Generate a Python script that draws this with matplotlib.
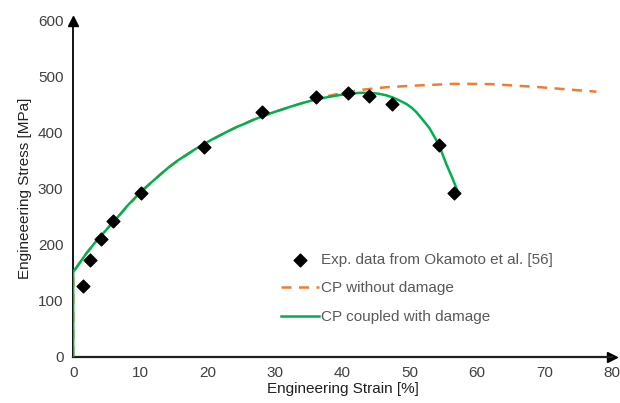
import numpy as np
import matplotlib
matplotlib.use("Agg")
import matplotlib.pyplot as plt

plt.rcParams['font.family'] = ['Liberation Sans', 'DejaVu Sans']

# experimental points (Okamoto et al.)
exp_strain = [1.5, 2.5, 4.1, 5.9, 10.1, 19.5, 28.1, 36.0, 40.8, 43.9, 47.4, 54.3, 56.5]
exp_stress = [127, 173, 210, 242, 292, 375, 437, 463, 470, 466, 451, 378, 292]

# CP coupled with damage
dmg_strain = [0, 0, 1.0, 2.0, 3.2, 4.45, 5.7, 6.9, 8.1, 9.4, 10.6, 11.9, 13.1, 14.3, 15.5,
              16.8, 18.0, 19.3, 20.5, 21.8, 23.0, 24.2, 25.5, 26.7, 28.0, 29.2, 30.7,
              32.2, 33.7, 35.2, 36.6, 38.1, 39.6, 41.1, 42.6, 44.0, 45.3, 46.5, 47.6,
              48.5, 49.5, 50.3, 51.0, 51.9, 52.9, 53.9, 54.7, 55.4, 56.3, 57.1]
dmg_stress = [0, 151, 168, 185, 203, 220, 237, 253, 270, 286, 300.5, 314, 327, 339, 350,
              360, 369.5, 378.5, 387, 395, 402.5, 409.5, 416, 422.5, 428.5, 434, 440,
              446, 451.5, 456.5, 460.5, 464, 467, 469.5, 471, 471, 469.5, 466.5, 462,
              457, 451, 444, 436, 423, 408, 387, 366, 344, 319, 295]

# CP without damage
nod_strain = [0, 0, 2.0, 4.45, 6.9, 9.4, 11.9, 14.3, 16.8, 19.3, 21.8, 24.2, 26.7, 29.2,
              31.5, 33.7, 36.0, 38.1, 40.3, 42.6, 44.5, 46.5, 48.7, 51.0, 53.7, 56.4,
              59.0, 62.0, 65.5, 69.3, 73.5, 77.7]
nod_stress = [0, 151, 185, 220, 253, 286, 314, 339, 360, 378.5, 395, 409.5, 422.5, 434,
              443, 451.5, 460, 466, 471.5, 476, 478.5, 481, 482.5, 484, 485.5, 487,
              487, 486.5, 484, 481, 477, 473]

green = '#00B050'
orange = '#ED7D31'
grey = '#404040'

fig = plt.figure(figsize=(6.2, 4.03), dpi=100)
ax = fig.add_axes([0.118, 0.115, 0.869, 0.834])

ax.plot(nod_strain, nod_stress, color=orange, lw=1.8, linestyle=(0, (4, 3)),
        label='CP without damage', zorder=2)
ax.plot(dmg_strain, dmg_stress, color=green, lw=1.8,
        label='CP coupled with damage', zorder=3)
ax.scatter(exp_strain, exp_stress, marker='D', s=42, color='black', zorder=4,
           label='Exp. data from Okamoto et al. [56]')

ax.set_xlim(0, 80)
ax.set_ylim(0, 600)
ax.set_xticks(range(0, 81, 10))
ax.set_yticks(range(0, 601, 100))
ax.tick_params(length=0, labelsize=11, colors=grey, pad=7)

for s in ['top', 'right']:
    ax.spines[s].set_visible(False)
ax.spines['left'].set_linewidth(1.3)
ax.spines['bottom'].set_linewidth(1.6)
ax.spines['bottom'].set_color('#202020')

# arrow heads on the axes
ax.plot(1, 0, '>', color='black', ms=7, transform=ax.transAxes, clip_on=False)
ax.plot(0, 1, '^', color='black', ms=7, transform=ax.transAxes, clip_on=False)

ax.set_xlabel('Engineering Strain [%]', fontsize=11, color='#202020', labelpad=1)
ax.set_ylabel('Engineeering Stress [MPa]', fontsize=11, color='#202020', labelpad=4)

h, l = ax.get_legend_handles_labels()
order = [2, 0, 1]
leg = ax.legend([h[i] for i in order], [l[i] for i in order],
                loc='center left', bbox_to_anchor=(0.3605, 0.203), frameon=False,
                fontsize=11, handlelength=2.5, handletextpad=0.1, labelspacing=0.95,
                labelcolor='#595959')

fig.savefig('out.png', dpi=100)
